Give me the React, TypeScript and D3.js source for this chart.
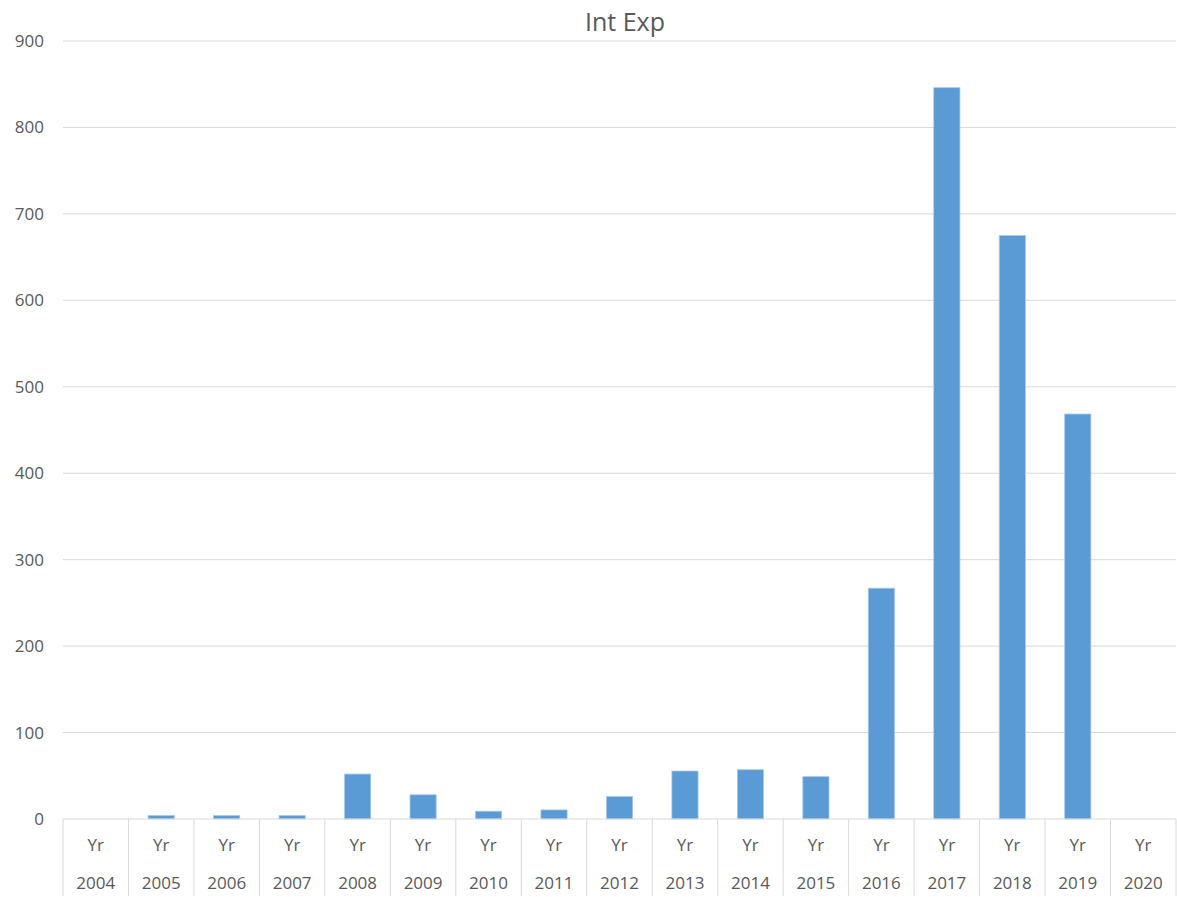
import React from "react";
import * as d3 from "d3";

const years = ["2004","2005","2006","2007","2008","2009","2010","2011","2012","2013","2014","2015","2016","2017","2018","2019","2020"];
const level1 = years.map(() => "Yr");
const values = [0, 4, 4, 4, 52, 28, 9, 10.5, 26, 55.5, 57, 49, 267, 846, 675, 468.5, 0];
const yTicks = [0, 100, 200, 300, 400, 500, 600, 700, 800, 900];
const title = "Int Exp";

const W = 1177, H = 897;
const left = 63, right = 1176, top = 41, bottom = 819;
const font = "'Open Sans', 'Noto Sans', sans-serif";
const textColor = "#595959";

export default function App() {
  const x = d3.scaleBand<string>().domain(years).range([left, right]).paddingInner(0).paddingOuter(0);
  const y = d3.scaleLinear().domain([0, 900]).range([bottom, top]);
  const bw = x.bandwidth() * 0.4;
  return (
    <svg width={W} height={H} style={{ position: "absolute", left: 0, top: 0, background: "#fff" }}>
      <rect x={0} y={0} width={W} height={H} fill="#fff" />
      <text x={625} y={31} textAnchor="middle" fontFamily={font} fontSize={25} fill={textColor}>{title}</text>
      {yTicks.map(t => (
        <g key={t}>
          {t > 0 && <line x1={left} x2={right} y1={y(t)} y2={y(t)} stroke="#D9D9D9" strokeWidth={1} />}
          <text x={44} y={y(t)} dy="0.35em" textAnchor="end" fontFamily={font} fontSize={17} fill={textColor}>{t}</text>
        </g>
      ))}
      {years.map((yr, i) => {
        const v = values[i];
        const cx = (x(yr) as number) + x.bandwidth() / 2;
        return (
          <g key={yr}>
            {v > 0 && (
              <rect x={cx - bw / 2} y={y(v)} width={bw} height={y(0) - y(v)} fill="#5B9BD5" stroke="#A9C8EA" strokeWidth={0.75} />
            )}
            <text x={cx} y={845} dy="0.35em" textAnchor="middle" fontFamily={font} fontSize={17} fill={textColor}>{level1[i]}</text>
            <text x={cx} y={883} dy="0.35em" textAnchor="middle" fontFamily={font} fontSize={17} fill={textColor}>{yr}</text>
          </g>
        );
      })}
      <line x1={left} x2={right} y1={bottom} y2={bottom} stroke="#D9D9D9" strokeWidth={1} />
      {years.concat(["end"]).map((yr, i) => {
        const xx = i < years.length ? (x(yr) as number) : right;
        return <line key={"s" + i} x1={xx} x2={xx} y1={bottom} y2={896} stroke="#D9D9D9" strokeWidth={1} />;
      })}
    </svg>
  );
}
